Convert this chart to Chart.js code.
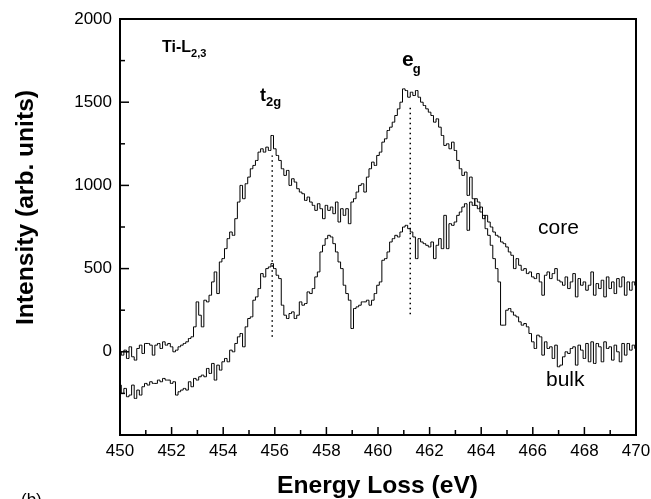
<!DOCTYPE html>
<html>
<head>
<meta charset="utf-8">
<script src="https://cdn.jsdelivr.net/npm/chart.js@4.4.0/dist/chart.umd.min.js"></script>
<style>
  html, body { margin: 0; padding: 0; background: #fff; }
  #wrap { width: 651px; height: 499px; }
</style>
</head>
<body>
<div id="wrap"><canvas id="eels" width="651" height="499"></canvas></div>
<script>
// energy axis: 450.0 .. 470.0 eV in 0.1 eV channels
const eStart = 450;
const eStep = 0.1;

// Ti-L2,3 edge, core region
const coreCounts = [
    0, -20, 10, -40, 30, -30, -50, 20, 40, -10,
    50, 50, 40, -20, 40, 50, 20, 60, 40, 50,
    30, 0, 10, 30, 40, 50, 60, 80, 90, 150,
    300, 220, 150, 310, 300, 340, 420, 480, 350, 540,
    560, 620, 680, 720, 700, 800, 900, 1000, 920, 1010,
    1050, 1100, 1120, 1150, 1200, 1220, 1200, 1230, 1210, 1300,
    1220, 1180, 1150, 1100, 1060, 1090, 1000, 1040, 1020, 980,
    960, 950, 910, 930, 900, 880, 850, 890, 860, 800,
    880, 850, 870, 830, 900, 780, 860, 820, 860, 770,
    900, 920, 960, 1000, 1010, 960, 1050, 1100, 1140, 1120,
    1180, 1200, 1260, 1280, 1330, 1350, 1380, 1420, 1460, 1500,
    1580, 1570, 1530, 1560, 1540, 1570, 1530, 1500, 1480, 1460,
    1440, 1420, 1380, 1400, 1350, 1300, 1240, 1250, 1220, 1260,
    1210, 1150, 1100, 1060, 1080, 940, 1050, 920, 880, 860,
    870, 800, 820, 780, 750, 720, 700, 690, 660, 650,
    630, 600, 580, 500, 560, 520, 490, 500, 470, 480,
    450, 440, 470, 420, 340, 460, 480, 440, 470, 500,
    430, 420, 400, 450, 380, 420, 470, 330, 440, 400,
    420, 370, 400, 480, 340, 410, 380, 430, 330, 450,
    380, 420, 350, 440, 390, 450, 340, 420, 370, 420,
    400
];

// Ti-L2,3 edge, bulk region
const bulkCounts = [
    -200, -250, -220, -270, -260, -200, -280, -230, -260, -210,
    -190, -200, -180, -190, -190, -170, -180, -160, -170, -170,
    -190, -180, -260, -240, -230, -220, -230, -180, -210, -160,
    -170, -150, -140, -150, -100, -130, -70, -170, -80, -110,
    -60, -40, -60, 10, 0, 50, 90, 110, 30, 150,
    200, 210, 310, 330, 380, 470, 450, 500, 510, 530,
    500, 460, 440, 280, 220, 200, 230, 240, 200, 220,
    300, 280, 290, 360, 350, 380, 450, 480, 600, 640,
    680, 700, 690, 650, 600, 540, 500, 400, 350, 310,
    140, 260, 270, 280, 300, 300, 310, 280, 310, 350,
    400, 420, 550, 560, 600, 660, 680, 700, 690, 720,
    750, 760, 740, 720, 690, 560, 680, 660, 650, 640,
    630, 660, 560, 640, 680, 620, 820, 620, 770, 760,
    780, 820, 840, 870, 890, 730, 900, 880, 920, 900,
    840, 820, 740, 700, 640, 560, 500, 420, 160, 160,
    250, 260, 240, 220, 210, 180, 160, 170, 150, 110,
    60, 20, 100, 90, -20, 60, 20, 30, -40, 40,
    -90, -80, -30, 0, -10, 20, 30, -80, 40, 10,
    -40, 50, -60, 60, -70, 50, 30, -60, 60, 20,
    30, -50, 40, 0, -60, 50, -20, 50, 10, 40,
    20
];

// dotted markers for t2g and eg peaks: [energy, yFrom, yTo]
const t2gMark = [455.9, 90, 1180];
const egMark = [461.25, 225, 1470];

const xMin = 450, xMax = 470;
const yMin = -500, yMax = 2000;
const yLabelled = [0, 500, 1000, 1500, 2000];

function toPoints(arr) {
    return arr.map((v, i) => ({ x: +(eStart + i * eStep).toFixed(1), y: v }));
}

function markLine(m) {
    return [{ x: m[0], y: m[1] }, { x: m[0], y: m[2] }];
}

// inward tick marks, labels and axis titles
const decorPlugin = {
    id: 'decor',
    afterDraw(chart) {
        const ctx = chart.ctx;
        const xs = chart.scales.x, ys = chart.scales.y;
        const area = chart.chartArea;
        ctx.save();
        ctx.strokeStyle = '#000';
        ctx.lineWidth = 1.5;
        for (let v = xMin + 1; v < xMax; v++) {
            const px = xs.getPixelForValue(v);
            const len = v % 2 === 0 ? 8 : 5;
            ctx.beginPath();
            ctx.moveTo(px, area.bottom);
            ctx.lineTo(px, area.bottom - len);
            ctx.stroke();
        }
        for (let v = yMin + 250; v < yMax; v += 250) {
            const py = ys.getPixelForValue(v);
            const len = v % 500 === 0 ? 9 : 5;
            ctx.beginPath();
            ctx.moveTo(area.left, py);
            ctx.lineTo(area.left + len, py);
            ctx.stroke();
        }

        ctx.fillStyle = '#000';
        ctx.textBaseline = 'alphabetic';
        ctx.textAlign = 'left';

        // Ti-L2,3
        ctx.font = 'bold 16px "Liberation Sans", Arial, sans-serif';
        let px = xs.getPixelForValue(451.63), py = ys.getPixelForValue(1803);
        ctx.fillText('Ti-L', px, py);
        let w = ctx.measureText('Ti-L').width;
        ctx.font = 'bold 11px "Liberation Sans", Arial, sans-serif';
        ctx.fillText('2,3', px + w, py + 5);

        // t2g
        ctx.font = 'bold 18px "Liberation Sans", Arial, sans-serif';
        px = xs.getPixelForValue(455.43); py = ys.getPixelForValue(1508);
        ctx.fillText('t', px, py);
        w = ctx.measureText('t').width;
        ctx.font = 'bold 13px "Liberation Sans", Arial, sans-serif';
        ctx.fillText('2g', px + w, py + 5);

        // eg
        ctx.font = 'bold 21px "Liberation Sans", Arial, sans-serif';
        px = xs.getPixelForValue(460.93); py = ys.getPixelForValue(1719);
        ctx.fillText('e', px, py);
        w = ctx.measureText('e').width;
        ctx.font = 'bold 13px "Liberation Sans", Arial, sans-serif';
        ctx.fillText('g', px + w - 1, py + 7);

        // series names
        ctx.font = '21px "Liberation Sans", Arial, sans-serif';
        ctx.fillText('core', xs.getPixelForValue(466.2), ys.getPixelForValue(707));
        ctx.fillText('bulk', xs.getPixelForValue(466.51), ys.getPixelForValue(-208));

        // panel tag
        ctx.font = '17px "Liberation Sans", Arial, sans-serif';
        ctx.fillText('(b)', 21, 505);

        // axis titles, stretched to the width seen in the figure
        ctx.font = 'bold 24px "Liberation Sans", Arial, sans-serif';
        ctx.textAlign = 'center';
        let t = 'Energy Loss (eV)';
        ctx.save();
        ctx.translate(377.5, 493);
        ctx.scale(201 / ctx.measureText(t).width, 1);
        ctx.fillText(t, 0, 0);
        ctx.restore();

        t = 'Intensity (arb. units)';
        ctx.save();
        ctx.translate(33, 207.5);
        ctx.rotate(-Math.PI / 2);
        ctx.scale(235 / ctx.measureText(t).width, 1);
        ctx.fillText(t, 0, 0);
        ctx.restore();

        ctx.restore();
    }
};

const ctx = document.getElementById('eels').getContext('2d');
new Chart(ctx, {
    type: 'line',
    data: {
        datasets: [
            {
                label: 'core',
                data: toPoints(coreCounts),
                borderColor: '#000',
                borderWidth: 1,
                stepped: 'middle',
                pointRadius: 0
            },
            {
                label: 'bulk',
                data: toPoints(bulkCounts),
                borderColor: '#000',
                borderWidth: 1,
                stepped: 'middle',
                pointRadius: 0
            },
            {
                label: 't2g',
                data: markLine(t2gMark),
                borderColor: '#000',
                borderWidth: 1.5,
                borderDash: [1.5, 3.5],
                pointRadius: 0
            },
            {
                label: 'eg',
                data: markLine(egMark),
                borderColor: '#000',
                borderWidth: 1.5,
                borderDash: [1.5, 3.5],
                pointRadius: 0
            }
        ]
    },
    options: {
        responsive: false,
        animation: false,
        events: [],
        layout: { padding: { top: 19, right: 15, left: 0, bottom: 0 } },
        plugins: {
            legend: { display: false },
            tooltip: { enabled: false }
        },
        scales: {
            x: {
                type: 'linear',
                min: xMin,
                max: xMax,
                afterFit(scale) {
                    scale.height = 64;
                    scale.paddingLeft = 0;
                    scale.paddingRight = 0;
                },
                grid: { display: false, drawTicks: false },
                border: { display: true, color: '#000', width: 2 },
                ticks: {
                    stepSize: 1,
                    padding: 6,
                    color: '#000',
                    font: { family: '"Liberation Sans", Arial, sans-serif', size: 17 },
                    maxRotation: 0,
                    autoSkip: false,
                    callback: v => (v % 2 === 0 ? String(v) : '')
                }
            },
            y: {
                type: 'linear',
                min: yMin,
                max: yMax,
                afterFit(scale) {
                    scale.width = 120;
                    scale.paddingTop = 0;
                    scale.paddingBottom = 0;
                },
                grid: { display: false, drawTicks: false },
                border: { display: true, color: '#000', width: 2 },
                ticks: {
                    stepSize: 250,
                    padding: 8,
                    color: '#000',
                    font: { family: '"Liberation Sans", Arial, sans-serif', size: 17 },
                    autoSkip: false,
                    callback: v => (yLabelled.includes(v) ? String(v) : '')
                }
            }
        }
    },
    plugins: [decorPlugin, {
        id: 'frame',
        afterDraw(chart) {
            const a = chart.chartArea, c = chart.ctx;
            c.save();
            c.strokeStyle = '#000';
            c.lineWidth = 2;
            c.strokeRect(a.left, a.top, a.right - a.left, a.bottom - a.top);
            c.restore();
        }
    }]
});
</script>
</body>
</html>
